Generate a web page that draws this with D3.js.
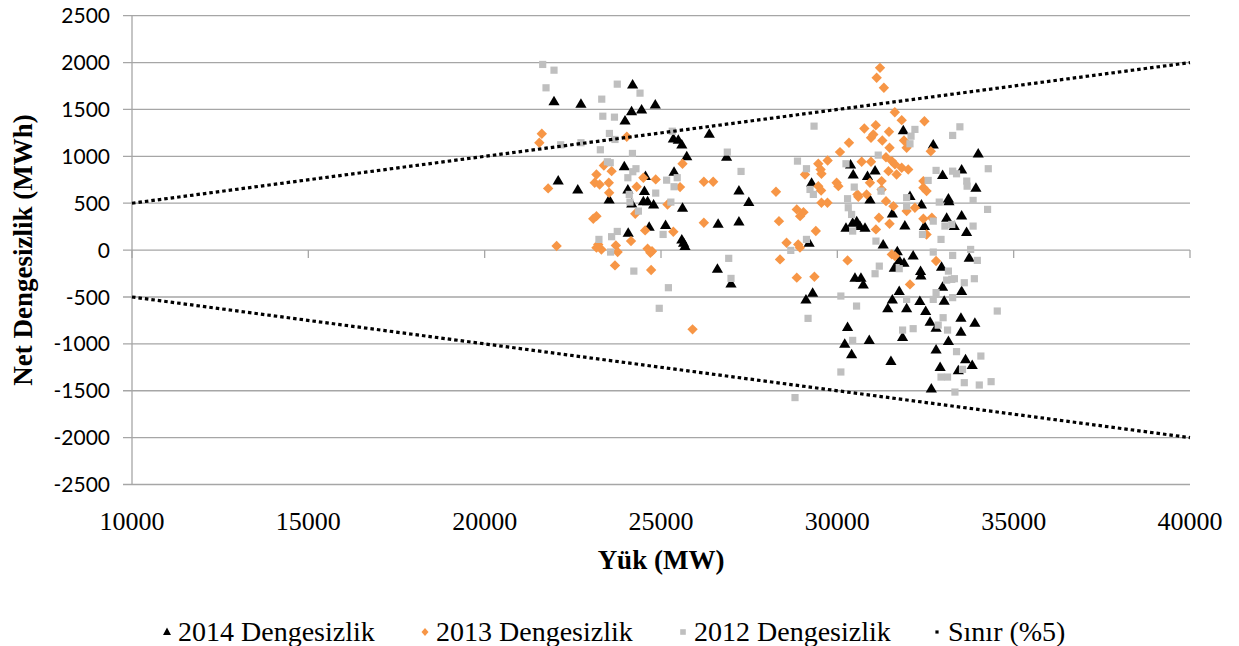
<!DOCTYPE html>
<html><head><meta charset="utf-8">
<script src="https://cdn.jsdelivr.net/npm/d3@7/dist/d3.min.js"></script>
<style>body{margin:0;background:#fff}svg{display:block}</style>
</head><body>
<svg id="c" width="1239" height="646"></svg>
<script>
// ---- data (Yük MW, Net Dengesizlik MWh) ----
const s2014 = [[24195,1766],[21966,1588],[22730,1560],[24838,1553],[24165,1482],[24450,1500],[23980,1382],[25350,1190],[25490,1177],[25590,1127],[25730,1002],[26370,1241],[26860,996],[23960,895],[25370,836],[24560,789],[22085,743],[22640,647],[27210,636],[24060,647],[24530,629],[23530,540],[24500,522],[24620,522],[24790,487],[24170,498],[25610,452],[27490,512],[26620,281],[27210,306],[25130,267],[24665,249],[24070,185],[25590,114],[25640,79],[25680,43],[26600,-198],[26985,-355],
[31870,1279],[32720,1127],[33995,1031],[30375,914],[30450,807],[31070,850],[30855,789],[32985,800],[33525,860],[33930,665],[29270,718],[32060,576],[33150,551],[30245,239],[30435,292],[30640,256],[30785,239],[30550,309],[31915,263],[32470,256],[33100,345],[33315,256],[33525,370],[33665,192],[31560,391],[33165,522],[30925,540],[32385,487],[31300,61],[29200,79],[31700,-11],[31755,-107],[31890,-134],[32150,-57],[32360,-224],[32370,-270],[32955,-177],[33740,-81],[31615,-188],[30500,-294],[30670,-294],[30735,-366],[31755,-437],[32985,-390],[33525,-437],[29110,-526],[29300,-454],[31560,-526],[32340,-543],[30290,-821],[30210,-998],[30405,-1112],[30905,-959],[31430,-621],[31965,-621],[32505,-650],[32630,-763],[32800,-827],[33030,-540],[31850,-927],[31520,-1183],[33150,-970],[32800,-1059],[32915,-1247],[33505,-721],[33900,-774],[33505,-870],[33635,-1165],[33825,-1226],[33430,-1282],[32665,-1477]];

const s2013 = [[21620,1241],[21550,1145],[24030,1209],[25610,921],[23380,903],[23600,842],[23170,807],[23120,718],[23260,700],[23520,718],[24500,772],[24850,754],[24310,676],[25540,672],[26215,729],[26480,729],[21800,658],[23530,612],[23080,335],[23170,362],[22040,43],[23220,61],[23310,7],[23170,26],[23720,50],[23770,-21],[23695,-163],[24150,96],[24550,210],[24620,15],[24745,-11],[24700,-28],[24720,-213],[25350,196],[26215,292],[24270,388],[25185,487],[25895,-845],
[31210,1944],[31115,1838],[31320,1731],[31630,1471],[31825,1386],[32470,1375],[30765,1297],[31090,1332],[31465,1262],[30955,1198],[31020,1233],[31275,1169],[31480,1092],[31890,1169],[31965,1092],[30330,1145],[30075,1045],[32650,1055],[29725,956],[29460,921],[29525,860],[29550,814],[29083,807],[30690,942],[30955,942],[31380,991],[31545,949],[31635,914],[31450,842],[31680,807],[31825,878],[32010,860],[30925,718],[31255,736],[31255,647],[29980,718],[30030,682],[29460,682],[29540,636],[28260,622],[32440,736],[32440,665],[32530,629],[30570,594],[30830,594],[28345,309],[28560,79],[28375,-99],[28850,-294],[29350,-284],[28850,434],[29040,405],[28945,362],[29390,203],[28890,61],[28940,26],[29550,505],[29720,505],[30290,-110],[31095,221],[31180,345],[31480,281],[31545,-46],[31635,-64],[32060,-366],[32800,-117],[32440,335],[32680,345],[32530,167],[31380,522],[31590,469],[31965,416],[32200,452],[30595,569]];

const s2012 = [[21645,1980],[21966,1919],[21740,1731],[23760,1770],[24405,1674],[23320,1610],[23350,1428],[23680,1418],[23537,1244],[22155,1123],[22730,1145],[23695,1180],[23280,1070],[24190,1031],[25320,1268],[26880,1045],[27270,839],[23480,942],[23560,932],[24290,868],[24200,836],[24060,772],[25160,746],[25460,772],[25370,676],[24850,608],[24100,594],[24120,512],[25280,512],[24360,416],[23760,199],[23600,143],[23240,114],[23570,-21],[25060,167],[24230,-224],[25210,-401],[24950,-621],[26920,-88],[26985,-302],
[29340,1322],[33475,1315],[33270,1223],[32200,1287],[32090,1215],[32060,1134],[28870,949],[29125,868],[31160,1013],[30245,921],[30480,672],[31240,629],[32800,850],[33270,842],[33380,814],[33670,736],[33680,682],[34280,868],[32575,743],[29225,647],[29320,594],[30290,548],[30310,452],[30405,380],[30435,203],[31095,96],[31965,559],[31965,469],[32890,512],[33850,530],[34260,434],[32720,309],[33050,256],[33245,274],[33850,256],[32415,167],[32940,114],[28680,-3],[29125,114],[32720,-21],[33270,-57],[33780,7],[33970,-110],[31190,-171],[31070,-252],[31755,-198],[33150,-224],[33245,-312],[33320,-305],[33100,-320],[33600,-348],[33885,-305],[30100,-490],[31965,-526],[32800,-454],[32720,-526],[33270,-507],[30545,-597],[29170,-728],[30435,-963],[30100,-1300],[28800,-1573],[31850,-853],[32150,-838],[33000,-721],[32860,-800],[33125,-853],[33380,-1083],[34070,-1130],[33550,-1272],[32940,-1354],[33125,-1354],[33600,-1414],[34025,-1439],[34360,-1403],[33335,-1514],[34535,-650]];

const sinirUst = [[10000,500],[40000,2000]];
const sinirAlt = [[10000,-500],[40000,-2000]];

const xTicks = [10000,15000,20000,25000,30000,35000,40000];
const yTicks = [-2500,-2000,-1500,-1000,-500,0,500,1000,1500,2000,2500];
const legendLabels = ["2014 Dengesizlik","2013 Dengesizlik","2012 Dengesizlik","Sınır (%5)"];

// ---- drawing ----
const svg = d3.select("#c");
const x = d3.scaleLinear().domain([10000,40000]).range([132,1190]);
const y = d3.scaleLinear().domain([-2500,2500]).range([484.5,15.7]);
const gridCol = "#a6a6a6";

svg.append("g").selectAll("line").data(yTicks).join("line")
  .attr("x1",123).attr("x2",1190)
  .attr("y1",d=>y(d)).attr("y2",d=>y(d))
  .attr("stroke",gridCol).attr("stroke-width",1.3);
svg.append("line").attr("x1",x(10000)).attr("x2",x(10000))
  .attr("y1",y(2500)).attr("y2",y(-2500)).attr("stroke",gridCol).attr("stroke-width",1.3);
svg.append("g").selectAll("line").data(xTicks).join("line")
  .attr("x1",d=>x(d)).attr("x2",d=>x(d))
  .attr("y1",y(0)).attr("y2",y(0)+8)
  .attr("stroke",gridCol).attr("stroke-width",1.3);

svg.append("g").selectAll("text").data(yTicks).join("text")
  .attr("x",110).attr("y",d=>y(d)).attr("dy","0.36em")
  .attr("text-anchor","end")
  .style("font-family","Lato, 'Liberation Sans', sans-serif").style("font-size","21px").attr("fill","#000")
  .text(d=>d);
svg.append("g").selectAll("text").data(xTicks).join("text")
  .attr("x",d=>x(d)).attr("y",530)
  .attr("text-anchor","middle")
  .style("font-family","'Liberation Serif', serif").style("font-size","26px").attr("fill","#000")
  .text(d=>d);

svg.append("text").attr("x",661).attr("y",569).attr("text-anchor","middle")
  .style("font-family","'Liberation Serif', serif").style("font-size","27px").style("font-weight","bold")
  .text("Yük (MW)");
svg.append("text").attr("transform","translate(32,250) rotate(-90)").attr("text-anchor","middle")
  .style("font-family","'Liberation Serif', serif").style("font-size","27px").style("font-weight","bold")
  .text("Net Dengesizlik (MWh)");

const triPath = "M0,-5.5L5.6,4L-5.6,4Z";
const diaPath = "M0,-5.2L5.2,0L0,5.2L-5.2,0Z";
const sqPath = "M-3.6,-3.6H3.6V3.6H-3.6Z";
function series(data, path, color){
  svg.append("g").selectAll("path").data(data).join("path")
    .attr("d",path).attr("fill",color)
    .attr("transform",d=>`translate(${x(d[0])},${y(d[1])})`);
}
series(s2014, triPath, "#000000");
series(s2013, diaPath, "#f79646");
series(s2012, sqPath, "#bfbfbf");

const line = d3.line().x(d=>x(d[0])).y(d=>y(d[1]));
[sinirUst, sinirAlt].forEach(s=>{
  svg.append("path").attr("d",line(s)).attr("fill","none")
    .attr("stroke","#000").attr("stroke-width",3.2).attr("stroke-dasharray","3.5,3");
});

const legX = [167,425,683,937];
const legPaths = ["M0,-4.5L4,3L-4,3Z","M0,-4L3.5,0L0,4L-3.5,0Z","M-2.8,-2.8H2.8V2.8H-2.8Z","M-1.6,-1.6H1.6V1.6H-1.6Z"];
const legCols = ["#000","#f79646","#bfbfbf","#000"];
const lg = svg.append("g");
legendLabels.forEach((t,i)=>{
  lg.append("path").attr("d",legPaths[i]).attr("fill",legCols[i])
    .attr("transform",`translate(${legX[i]},632)`);
  lg.append("text").attr("x",legX[i]+11).attr("y",641)
    .style("font-family","'Liberation Serif', serif").style("font-size","28px")
    .text(t);
});
</script>
</body></html>
